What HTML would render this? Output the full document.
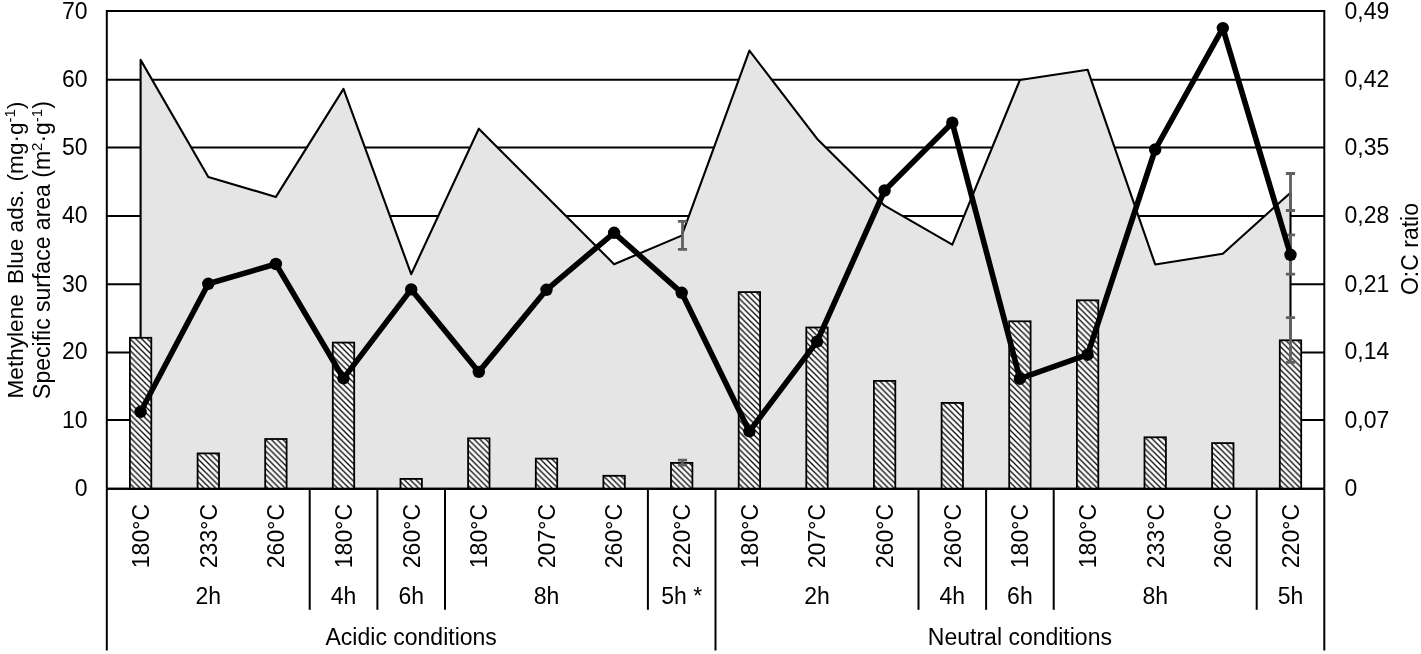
<!DOCTYPE html><html><head><meta charset="utf-8"><style>
html,body{margin:0;padding:0;background:#fff;width:1421px;height:654px;overflow:hidden}
svg{display:block;filter:grayscale(1)}
text{font-family:"Liberation Sans",sans-serif;fill:#000}
</style></head><body>
<svg width="1421" height="654" viewBox="0 0 1421 654">
<defs><pattern id="h" patternUnits="userSpaceOnUse" width="5.8" height="5.8">
<rect width="5.8" height="5.8" fill="#fff"/>
<path d="M-1,-1 L6.8,6.8 M-1,4.8 L1,6.8 M4.8,-1 L6.8,1" stroke="#000" stroke-width="1.25"/>
</pattern></defs>

<line x1="106.8" y1="488.80" x2="1324.3" y2="488.80" stroke="#000" stroke-width="2"/>
<line x1="106.8" y1="420.00" x2="1324.3" y2="420.00" stroke="#000" stroke-width="2"/>
<line x1="106.8" y1="352.40" x2="1324.3" y2="352.40" stroke="#000" stroke-width="2"/>
<line x1="106.8" y1="284.20" x2="1324.3" y2="284.20" stroke="#000" stroke-width="2"/>
<line x1="106.8" y1="216.10" x2="1324.3" y2="216.10" stroke="#000" stroke-width="2"/>
<line x1="106.8" y1="147.40" x2="1324.3" y2="147.40" stroke="#000" stroke-width="2"/>
<line x1="106.8" y1="79.80" x2="1324.3" y2="79.80" stroke="#000" stroke-width="2"/>
<line x1="106.8" y1="11.00" x2="1324.3" y2="11.00" stroke="#000" stroke-width="2"/>
<polygon points="140.6,488.8 140.6,59.9 208.3,177.0 275.9,196.9 343.5,88.9 411.2,274.2 478.8,128.7 546.5,196.4 614.1,264.2 681.7,235.6 749.4,50.6 817.0,138.7 884.6,205.7 952.3,244.7 1019.9,80.0 1087.6,69.7 1155.2,264.5 1222.8,253.8 1290.5,192.7 1290.5,488.8" fill="#e5e5e5" stroke="#000" stroke-width="2.1" stroke-linejoin="round"/>
<rect x="129.9" y="337.8" width="21.4" height="151.0" fill="url(#h)" stroke="#000" stroke-width="1.8"/>
<rect x="197.6" y="453.4" width="21.4" height="35.4" fill="url(#h)" stroke="#000" stroke-width="1.8"/>
<rect x="265.2" y="439.0" width="21.4" height="49.8" fill="url(#h)" stroke="#000" stroke-width="1.8"/>
<rect x="332.8" y="342.6" width="21.4" height="146.2" fill="url(#h)" stroke="#000" stroke-width="1.8"/>
<rect x="400.5" y="478.9" width="21.4" height="9.9" fill="url(#h)" stroke="#000" stroke-width="1.8"/>
<rect x="468.1" y="438.3" width="21.4" height="50.5" fill="url(#h)" stroke="#000" stroke-width="1.8"/>
<rect x="535.8" y="458.6" width="21.4" height="30.2" fill="url(#h)" stroke="#000" stroke-width="1.8"/>
<rect x="603.4" y="475.8" width="21.4" height="13.0" fill="url(#h)" stroke="#000" stroke-width="1.8"/>
<rect x="671.0" y="462.9" width="21.4" height="25.9" fill="url(#h)" stroke="#000" stroke-width="1.8"/>
<rect x="738.7" y="292.1" width="21.4" height="196.7" fill="url(#h)" stroke="#000" stroke-width="1.8"/>
<rect x="806.3" y="327.5" width="21.4" height="161.3" fill="url(#h)" stroke="#000" stroke-width="1.8"/>
<rect x="873.9" y="380.9" width="21.4" height="107.9" fill="url(#h)" stroke="#000" stroke-width="1.8"/>
<rect x="941.6" y="402.9" width="21.4" height="85.9" fill="url(#h)" stroke="#000" stroke-width="1.8"/>
<rect x="1009.2" y="321.3" width="21.4" height="167.5" fill="url(#h)" stroke="#000" stroke-width="1.8"/>
<rect x="1076.9" y="300.3" width="21.4" height="188.5" fill="url(#h)" stroke="#000" stroke-width="1.8"/>
<rect x="1144.5" y="437.3" width="21.4" height="51.5" fill="url(#h)" stroke="#000" stroke-width="1.8"/>
<rect x="1212.1" y="443.1" width="21.4" height="45.7" fill="url(#h)" stroke="#000" stroke-width="1.8"/>
<rect x="1279.8" y="340.3" width="21.4" height="148.5" fill="url(#h)" stroke="#000" stroke-width="1.8"/>
<path d="M682.5,221.3 V249.3 M677.9,221.3 H687.1 M677.9,249.3 H687.1" stroke="#606060" stroke-width="2.8" fill="none"/>
<path d="M682.5,460.2 V465.2 M677.9,460.2 H687.1 M677.9,465.2 H687.1" stroke="#606060" stroke-width="2.8" fill="none"/>
<path d="M1290.5,173.5 V210.5 M1285.9,173.5 H1295.1 M1285.9,210.5 H1295.1" stroke="#606060" stroke-width="2.8" fill="none"/>
<path d="M1290.5,317.6 V362.3 M1285.9,317.6 H1295.1 M1285.9,362.3 H1295.1" stroke="#606060" stroke-width="2.8" fill="none"/>
<path d="M1290.5,234.9 V274.2 M1285.9,234.9 H1295.1 M1285.9,274.2 H1295.1" stroke="#606060" stroke-width="2.8" fill="none"/>
<polyline points="140.6,411.8 208.3,283.8 275.9,264.0 343.5,378.4 411.2,289.4 478.8,371.9 546.5,289.8 614.1,232.8 681.7,292.8 749.4,431.4 817.0,341.6 884.6,190.5 952.3,122.7 1019.9,378.7 1087.6,354.7 1155.2,149.5 1222.8,28.1 1290.5,254.8" fill="none" stroke="#000" stroke-width="5.6" stroke-linejoin="round"/>
<circle cx="140.6" cy="411.8" r="6.2" fill="#000"/>
<circle cx="208.3" cy="283.8" r="6.2" fill="#000"/>
<circle cx="275.9" cy="264.0" r="6.2" fill="#000"/>
<circle cx="343.5" cy="378.4" r="6.2" fill="#000"/>
<circle cx="411.2" cy="289.4" r="6.2" fill="#000"/>
<circle cx="478.8" cy="371.9" r="6.2" fill="#000"/>
<circle cx="546.5" cy="289.8" r="6.2" fill="#000"/>
<circle cx="614.1" cy="232.8" r="6.2" fill="#000"/>
<circle cx="681.7" cy="292.8" r="6.2" fill="#000"/>
<circle cx="749.4" cy="431.4" r="6.2" fill="#000"/>
<circle cx="817.0" cy="341.6" r="6.2" fill="#000"/>
<circle cx="884.6" cy="190.5" r="6.2" fill="#000"/>
<circle cx="952.3" cy="122.7" r="6.2" fill="#000"/>
<circle cx="1019.9" cy="378.7" r="6.2" fill="#000"/>
<circle cx="1087.6" cy="354.7" r="6.2" fill="#000"/>
<circle cx="1155.2" cy="149.5" r="6.2" fill="#000"/>
<circle cx="1222.8" cy="28.1" r="6.2" fill="#000"/>
<circle cx="1290.5" cy="254.8" r="6.2" fill="#000"/>
<path d="M106.8,488.8 V11 H1324.3 V488.8" fill="none" stroke="#000" stroke-width="2"/>
<line x1="106.8" y1="488.8" x2="1324.3" y2="488.8" stroke="#000" stroke-width="2"/>
<line x1="106.8" y1="488.8" x2="106.8" y2="650.5" stroke="#000" stroke-width="2"/>
<line x1="1324.3" y1="488.8" x2="1324.3" y2="650.5" stroke="#000" stroke-width="2"/>
<line x1="715.5" y1="488.8" x2="715.5" y2="650.5" stroke="#000" stroke-width="2"/>
<line x1="309.7" y1="488.8" x2="309.7" y2="609.8" stroke="#000" stroke-width="2"/>
<line x1="377.4" y1="488.8" x2="377.4" y2="609.8" stroke="#000" stroke-width="2"/>
<line x1="445.0" y1="488.8" x2="445.0" y2="609.8" stroke="#000" stroke-width="2"/>
<line x1="647.9" y1="488.8" x2="647.9" y2="609.8" stroke="#000" stroke-width="2"/>
<line x1="918.5" y1="488.8" x2="918.5" y2="609.8" stroke="#000" stroke-width="2"/>
<line x1="986.1" y1="488.8" x2="986.1" y2="609.8" stroke="#000" stroke-width="2"/>
<line x1="1053.7" y1="488.8" x2="1053.7" y2="609.8" stroke="#000" stroke-width="2"/>
<line x1="1256.7" y1="488.8" x2="1256.7" y2="609.8" stroke="#000" stroke-width="2"/>
<text x="87.5" y="496.3" font-size="23" text-anchor="end">0</text>
<text x="87.5" y="427.7" font-size="23" text-anchor="end">10</text>
<text x="87.5" y="359.4" font-size="23" text-anchor="end">20</text>
<text x="87.5" y="291.6" font-size="23" text-anchor="end">30</text>
<text x="87.5" y="222.7" font-size="23" text-anchor="end">40</text>
<text x="87.5" y="155.2" font-size="23" text-anchor="end">50</text>
<text x="87.5" y="86.7" font-size="23" text-anchor="end">60</text>
<text x="87.5" y="18.8" font-size="23" text-anchor="end">70</text>
<text x="1344.5" y="496.3" font-size="23">0</text>
<text x="1344.5" y="427.7" font-size="23">0,07</text>
<text x="1344.5" y="359.4" font-size="23">0,14</text>
<text x="1344.5" y="291.6" font-size="23">0,21</text>
<text x="1344.5" y="222.7" font-size="23">0,28</text>
<text x="1344.5" y="155.2" font-size="23">0,35</text>
<text x="1344.5" y="86.7" font-size="23">0,42</text>
<text x="1344.5" y="18.8" font-size="23">0,49</text>
<text transform="translate(148.9,504) rotate(-90)" font-size="23" text-anchor="end">180°C</text>
<text transform="translate(216.6,504) rotate(-90)" font-size="23" text-anchor="end">233°C</text>
<text transform="translate(284.2,504) rotate(-90)" font-size="23" text-anchor="end">260°C</text>
<text transform="translate(351.8,504) rotate(-90)" font-size="23" text-anchor="end">180°C</text>
<text transform="translate(419.5,504) rotate(-90)" font-size="23" text-anchor="end">260°C</text>
<text transform="translate(487.1,504) rotate(-90)" font-size="23" text-anchor="end">180°C</text>
<text transform="translate(554.8,504) rotate(-90)" font-size="23" text-anchor="end">207°C</text>
<text transform="translate(622.4,504) rotate(-90)" font-size="23" text-anchor="end">260°C</text>
<text transform="translate(690.0,504) rotate(-90)" font-size="23" text-anchor="end">220°C</text>
<text transform="translate(757.7,504) rotate(-90)" font-size="23" text-anchor="end">180°C</text>
<text transform="translate(825.3,504) rotate(-90)" font-size="23" text-anchor="end">207°C</text>
<text transform="translate(892.9,504) rotate(-90)" font-size="23" text-anchor="end">260°C</text>
<text transform="translate(960.6,504) rotate(-90)" font-size="23" text-anchor="end">260°C</text>
<text transform="translate(1028.2,504) rotate(-90)" font-size="23" text-anchor="end">180°C</text>
<text transform="translate(1095.9,504) rotate(-90)" font-size="23" text-anchor="end">180°C</text>
<text transform="translate(1163.5,504) rotate(-90)" font-size="23" text-anchor="end">233°C</text>
<text transform="translate(1231.1,504) rotate(-90)" font-size="23" text-anchor="end">260°C</text>
<text transform="translate(1298.8,504) rotate(-90)" font-size="23" text-anchor="end">220°C</text>
<text x="208.3" y="603.6" font-size="23" text-anchor="middle">2h</text>
<text x="343.5" y="603.6" font-size="23" text-anchor="middle">4h</text>
<text x="411.2" y="603.6" font-size="23" text-anchor="middle">6h</text>
<text x="546.5" y="603.6" font-size="23" text-anchor="middle">8h</text>
<text x="681.7" y="603.6" font-size="23" text-anchor="middle">5h *</text>
<text x="817.0" y="603.6" font-size="23" text-anchor="middle">2h</text>
<text x="952.3" y="603.6" font-size="23" text-anchor="middle">4h</text>
<text x="1019.9" y="603.6" font-size="23" text-anchor="middle">6h</text>
<text x="1155.2" y="603.6" font-size="23" text-anchor="middle">8h</text>
<text x="1290.5" y="603.6" font-size="23" text-anchor="middle">5h</text>
<text x="411.2" y="644.8" font-size="23" text-anchor="middle">Acidic conditions</text>
<text x="1019.9" y="644.8" font-size="23" text-anchor="middle">Neutral conditions</text>
<text transform="translate(22.5,250) rotate(-90)" font-size="22.6" text-anchor="middle">Methylene <tspan dx="4">Blue</tspan> ads. <tspan dx="2">(mg·g</tspan><tspan font-size="15" dy="-8">-1</tspan><tspan dy="8">)</tspan></text>
<text transform="translate(50,250) rotate(-90)" font-size="23" text-anchor="middle">Specific surface area (m<tspan font-size="15" dy="-8">2</tspan><tspan dy="8">·g</tspan><tspan font-size="15" dy="-8">-1</tspan><tspan dy="8">)</tspan></text>
<text transform="translate(1418,249) rotate(-90)" font-size="23" text-anchor="middle">O:C ratio</text>
</svg></body></html>
